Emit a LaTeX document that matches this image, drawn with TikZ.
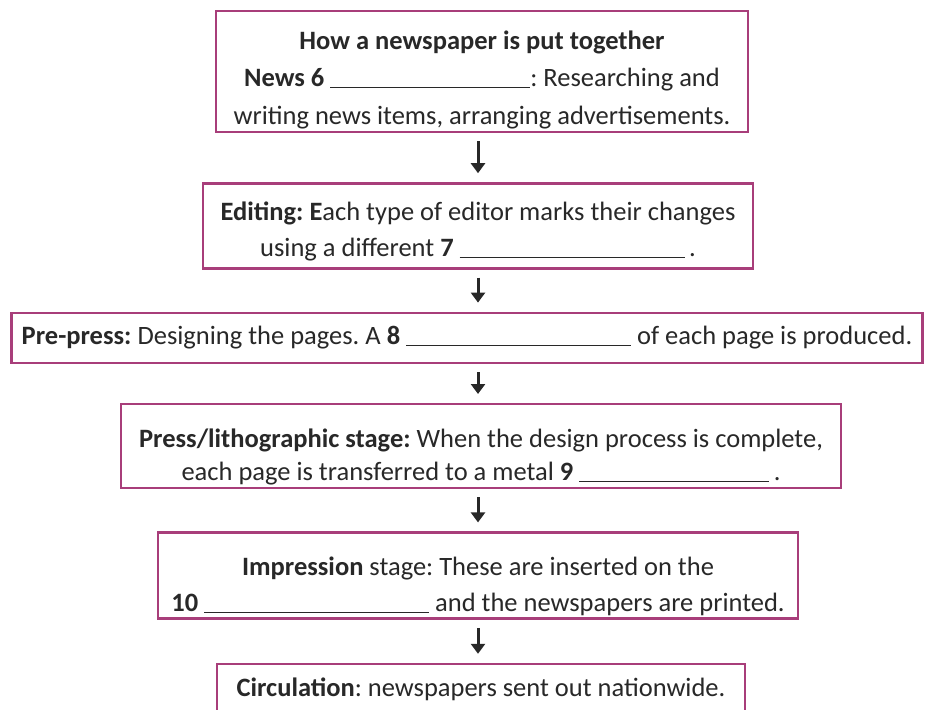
\documentclass[tikz,border=0pt]{standalone}
\usepackage{fontspec}
\setmainfont{Carlito}
\usetikzlibrary{arrows.meta,positioning}

\definecolor{framepink}{RGB}{168,62,122}
\definecolor{inkgray}{RGB}{40,40,40}
\newcommand{\answerline}[1]{\rule[-1pt]{#1}{0.9pt}}
\newcommand{\padtop}[1]{\rule{0pt}{#1}}
\frenchspacing

\begin{document}
\begin{tikzpicture}[x=1pt, y=1pt,
  stage/.style={draw=framepink, line width=2.4pt, fill=white, align=center, text=inkgray, font=\fontsize{26.5}{36}\selectfont, inner sep=0pt},
  arrow/.style={-{Triangle[length=10pt,width=14pt]}, line width=3pt, draw=inkgray, shorten <=8pt, shorten >=9pt},
]
\useasboundingbox (0,0) rectangle (944,-709);
\coordinate (axis) at (478,0);

\node[stage, minimum width=532pt, minimum height=121pt, font=\fontsize{26.5}{37.5}\selectfont] (intro) at (482,-71.5) {\padtop{35pt}{\bfseries How a newspaper is put together}\\{\bfseries News 6} \answerline{200pt}: Researching and\\writing news items, arranging advertisements.};
\node[stage, minimum width=550pt, minimum height=85pt, below=49pt of intro, xshift=-4pt] (editing) {\padtop{30pt}{\bfseries Editing: E}ach type of editor marks their changes\\using a different {\bfseries 7} \answerline{225pt}\,.};
\node[stage, minimum width=911pt, minimum height=50pt, below=42pt of editing, xshift=-11pt] (prepress) {{\bfseries Pre-press:} Designing the pages. A {\bfseries 8} \answerline{225pt} of each page is produced.};
\node[stage, minimum width=720pt, minimum height=84pt, below=39pt of prepress, xshift=14pt, font=\fontsize{26.5}{33}\selectfont] (press) {\padtop{40pt}{\bfseries Press/lithographic stage:} When the design process is complete,\\each page is transferred to a metal {\bfseries 9} \answerline{190pt}\,.};
\node[stage, minimum width=640pt, minimum height=86pt, below=42pt of press, xshift=-3pt] (impression) {\padtop{40pt}{\bfseries Impression} stage: These are inserted on the\\{\bfseries 10} \answerline{225pt} and the newspapers are printed.};
\node[stage, minimum width=528pt, minimum height=50pt, below=43pt of impression, xshift=3pt] (circulation) {{\bfseries Circulation}: newspapers sent out nationwide.};

\draw[arrow] (intro.south -| axis) -- (editing.north -| axis);
\draw[arrow] (editing.south -| axis) -- (prepress.north -| axis);
\draw[arrow] (prepress.south -| axis) -- (press.north -| axis);
\draw[arrow] (press.south -| axis) -- (impression.north -| axis);
\draw[arrow] (impression.south -| axis) -- (circulation.north -| axis);
\end{tikzpicture}
\end{document}
